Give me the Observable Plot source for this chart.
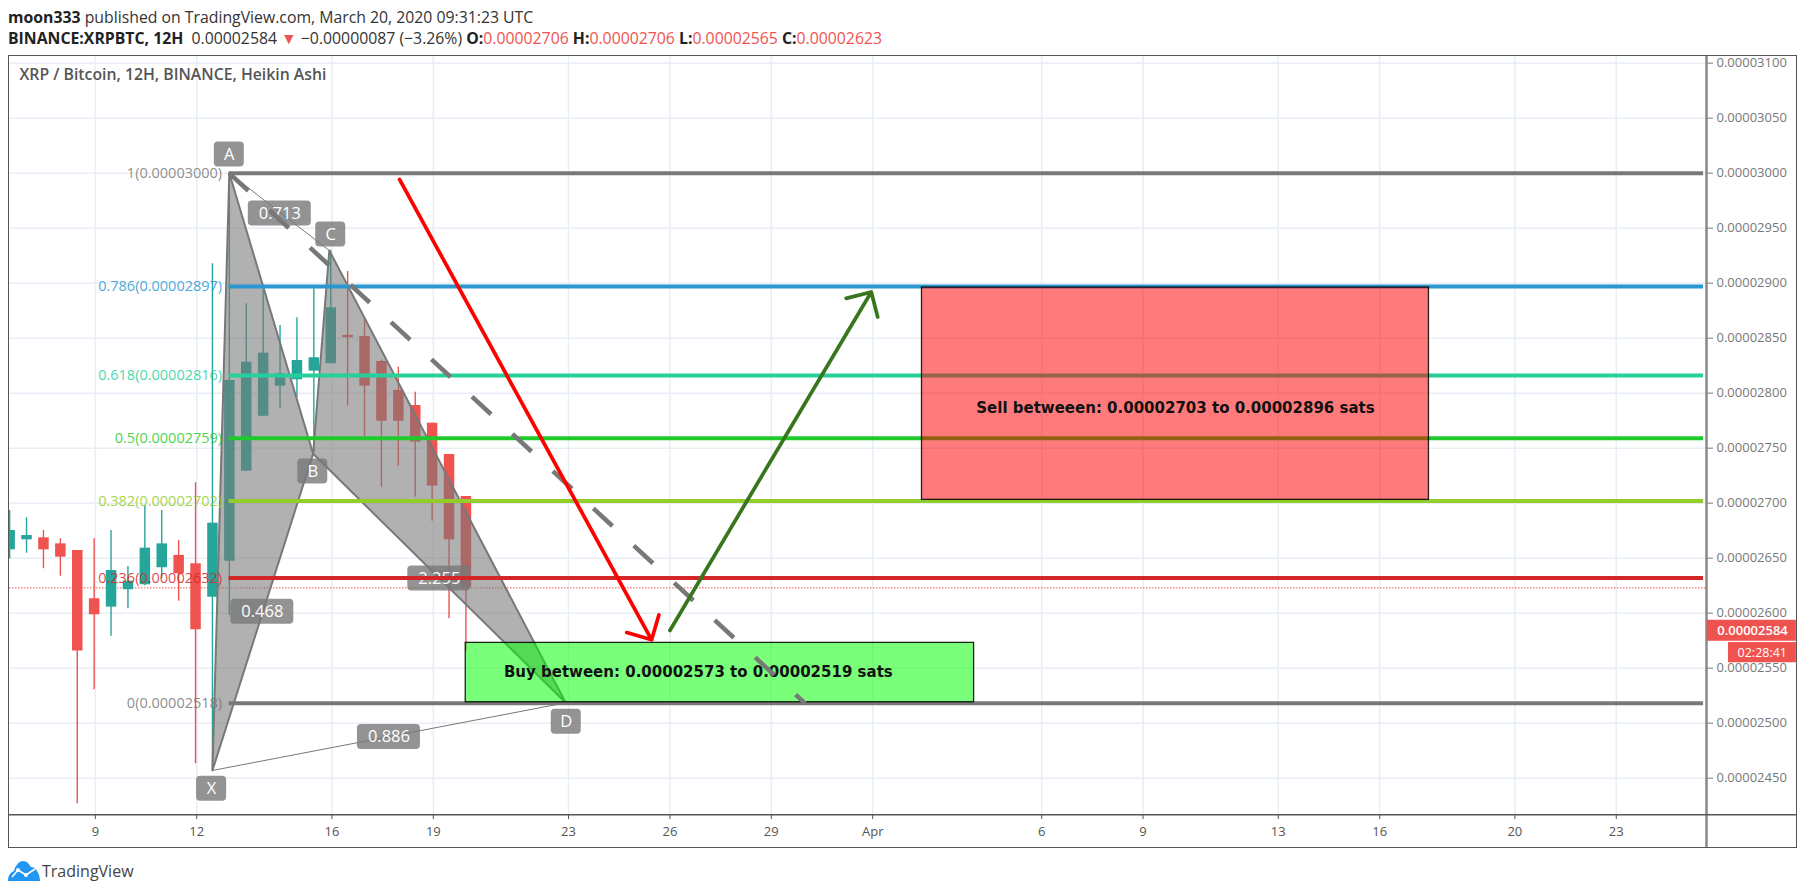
<!DOCTYPE html>
<html><head><meta charset="utf-8">
<script src="https://cdn.jsdelivr.net/npm/d3@7"></script>
<script src="https://cdn.jsdelivr.net/npm/@observablehq/plot@0.6"></script>
<style>
html,body{margin:0;padding:0;background:#fff;overflow:hidden;width:1805px;height:894px}
#page{position:relative;width:1805px;height:894px;font-family:"Open Sans",sans-serif}
#head{position:relative;height:47px;color:#333}
#head div{position:absolute;left:8px;white-space:nowrap;font-size:15.8px;line-height:20px;z-index:3}
#head b{color:#222;font-weight:700}
.r{color:#ef5350}
#frame{position:absolute;left:8px;top:55px;width:1787px;height:791px;border:1.5px solid #555;pointer-events:none;z-index:2}
#foot{position:absolute;left:8px;top:860px;height:21px;display:flex;align-items:center;gap:2px;font-size:16px;color:#444}
#chart{position:absolute;left:0;top:47px}
</style></head><body>
<div id="page">
<div id="head">
<div style="top:7px"><b>moon333</b> published on TradingView.com, March 20, 2020 09:31:23 UTC</div>
<div style="top:28px"><b>BINANCE:XRPBTC, 12H</b>&nbsp; 0.00002584 <span class="r">▼</span> −0.00000087 (−3.26%) <b>O:</b><span class="r">0.00002706</span> <b>H:</b><span class="r">0.00002706</span> <b>L:</b><span class="r">0.00002565</span> <b>C:</b><span class="r">0.00002623</span></div>
</div>
<div id="chart"></div>
<div id="frame"></div>
<div id="foot"><svg width="32" height="20" viewBox="0 0 32 20"><path d="M0 20C0 14 3 11 6 10C7 5 11 0 15 0C19 0 21 3 23 6C28 6 32 13 32 20Z" fill="#2196f3"/><polyline points="4,16 10,9 18,14 27,8" fill="none" stroke="#fff" stroke-width="1.6"/><circle cx="10" cy="9" r="2" fill="#fff"/><circle cx="18" cy="14" r="2" fill="#fff"/></svg><span>TradingView</span></div>
</div>
<script>
// Candles (Heikin Ashi, 12H). Prices are in units of 1e-8 BTC.
const candleTimes = ["2020-03-06T12:00","2020-03-07T00:00","2020-03-07T12:00","2020-03-08T00:00","2020-03-08T12:00","2020-03-09T00:00","2020-03-09T12:00","2020-03-10T00:00","2020-03-10T12:00","2020-03-11T00:00","2020-03-11T12:00","2020-03-12T00:00","2020-03-12T12:00","2020-03-13T00:00","2020-03-13T12:00","2020-03-14T00:00","2020-03-14T12:00","2020-03-15T00:00","2020-03-15T12:00","2020-03-16T00:00","2020-03-16T12:00","2020-03-17T00:00","2020-03-17T12:00","2020-03-18T00:00","2020-03-18T12:00","2020-03-19T00:00","2020-03-19T12:00","2020-03-20T00:00"];
const candleOpen  = [2657.6,2666.7,2668.5,2663,2657,2613.1,2605.5,2621.3,2625.8,2641.3,2652.5,2644.9,2614.5,2647.3,2729.1,2779,2806.4,2812.2,2820,2826.7,2852.5,2851.5,2828.8,2802.5,2788.8,2772.7,2744.3,2706];
const candleClose = [2675.2,2670.6,2657.6,2650.9,2565.5,2598.5,2638.8,2629.1,2659.1,2663,2635.8,2584.9,2681.8,2811.5,2828.2,2836.4,2817.6,2829.7,2832.2,2877.6,2850.4,2806.4,2774.5,2774.5,2755.5,2715.5,2666.7,2623];
const candleHigh  = [2693.4,2686.7,2675.2,2667.6,2657,2667.6,2675.2,2642.5,2697.9,2693.4,2666,2718.5,2917.6,3000,2881.3,2893.4,2861.5,2868.5,2894.9,2929.7,2910.6,2867.6,2830,2823.6,2800.9,2772.7,2744.3,2706];
const candleLow   = [2649.5,2654.5,2640.4,2633.6,2426.7,2530.4,2579.1,2604,2625,2631.3,2610.9,2463.1,2457,2598.2,2729.1,2779,2785.8,2796,2746.4,2826.7,2788.2,2760.7,2714.5,2733.6,2705.5,2683.6,2594.9,2565];
const candles = candleTimes.map((t,i)=>({t:new Date(t+"Z"),o:candleOpen[i],c:candleClose[i],h:candleHigh[i],l:candleLow[i]}));

// Fibonacci levels
const fibRatios = ["1","0.786","0.618","0.5","0.382","0.236","0"];
const fibLevels = [3000,2897,2816,2759,2702,2632,2518];
const fibColors = ["#787878","#2b96d0","#26d09a","#1fcb2a","#93cd2a","#d32727","#787878"];
const fibStart = "2020-03-12T23:00", fibEnd = "2020-04-25T14:00";
const fibs = fibLevels.map((v,i)=>({v,color:fibColors[i],label:`${fibRatios[i]}(${(v/1e8).toFixed(8)})`}));

// Harmonic pattern
const patternNames = ["X","A","B","C","D"];
const patternTimes = ["2020-03-12T12:00","2020-03-13T00:00","2020-03-15T11:30","2020-03-15T23:00","2020-03-22T22:50"];
const patternValues = [2457,3000,2744.9,2929.7,2518.5];
const P = Object.fromEntries(patternNames.map((n,i)=>[n,{t:new Date(patternTimes[i]+"Z"),v:patternValues[i]}]));
const triangles = ["XABX","BCDB"].flatMap(s=>[...s].map(n=>({s,...P[n]})));
const thinLines = ["XD","AC"].flatMap(s=>[...s].map(n=>({s,...P[n]})));

const tagTexts  = ["A","C","B","X","D","0.713","0.468","0.886","2.255"];
const tagTimes  = ["2020-03-13T00:00","2020-03-16T00:00","2020-03-15T11:15","2020-03-12T11:25","2020-03-22T23:15","2020-03-14T11:50","2020-03-13T23:25","2020-03-17T17:20","2020-03-19T05:05"];
const tagValues = [3017,2944.3,2728.8,2440.4,2501.3,2963.4,2601.3,2487.5,2631.5];
const tags = tagTexts.map((text,i)=>({text,t:new Date(tagTimes[i]+"Z"),v:tagValues[i]}));

// Zones
const zoneTexts = ["Buy between: 0.00002573 to 0.00002519 sats","Sell betweeen: 0.00002703 to 0.00002896 sats"];
const zoneStart = ["2020-03-19T23:00","2020-04-02T11:00"];
const zoneEnd   = ["2020-04-04T00:00","2020-04-17T11:00"];
const zoneLow   = [2519,2703];
const zoneHigh  = [2573,2896];
const zoneFills = ["#00ff00","#ff0000"];
const zoneTextTimes = ["2020-03-26T20:10","2020-04-09T23:00"];
const zoneTextValues = [2546,2786.4];
const zones = zoneTexts.map((text,i)=>({text,x1:new Date(zoneStart[i]+"Z"),x2:new Date(zoneEnd[i]+"Z"),y1:zoneLow[i],y2:zoneHigh[i],fill:zoneFills[i],tx:new Date(zoneTextTimes[i]+"Z"),ty:zoneTextValues[i]}));

// Arrows and dashed trend
const arrowFromTimes = ["2020-03-18T00:00","2020-03-26T00:00"];
const arrowToTimes   = ["2020-03-25T11:00","2020-03-31T23:00"];
const arrowFromValues = [2994.3,2584.3];
const arrowToValues   = [2575.8,2892];
const arrowColors = ["#ff0000","#38761d"];
const arrows = arrowFromTimes.map((t,i)=>({x1:new Date(t+"Z"),x2:new Date(arrowToTimes[i]+"Z"),y1:arrowFromValues[i],y2:arrowToValues[i],color:arrowColors[i]}));
const dashedTimes = ["2020-03-12T23:00","2020-03-30T00:00"];
const dashedValues = [3000,2518];
const dashed = dashedTimes.map((t,i)=>({t:new Date(t+"Z"),v:dashedValues[i]}));

// Axes
const xTickDates = ["2020-03-09","2020-03-12","2020-03-16","2020-03-19","2020-03-23","2020-03-26","2020-03-29","2020-04-01","2020-04-06","2020-04-09","2020-04-13","2020-04-16","2020-04-20","2020-04-23"].map(d=>new Date(d+"T00:00Z"));
const xTickLabels = ["9","12","16","19","23","26","29","Apr","6","9","13","16","20","23"];
const yTicks = [2450,2500,2550,2600,2650,2700,2750,2800,2850,2900,2950,3000,3050,3100];
const lastClose = 2623, lastPrice = 2584;
const countdown = "02:28:41";
const chartTitle = "XRP / Bitcoin, 12H, BINANCE, Heikin Ashi";

const day0 = Date.UTC(2020,2,9);
const at = d => new Date(day0 + d*864e5);
const pxX = 33.8, pxY = 1.1;              // pixels per day, pixels per price unit
const xDomain = [at(-2.54), at(47.67)];
const yDomain = [2416.7, 3106.7];
const yBelow = yDomain[0]-33/pxY;
const xOuter = at(50.33);
const FONT = '"Open Sans",sans-serif';
const off = (t,px)=>new Date(+t + px/pxX*864e5);
const shift = -1.2;

const chart = Plot.plot({
  width:1805,height:801,marginTop:8,marginBottom:34,marginLeft:9,marginRight:99,
  style:{background:"transparent",fontFamily:FONT},
  x:{type:"utc",domain:xDomain,range:[9,1706]},
  y:{type:"linear",domain:yDomain,range:[767.3,8.3]},
  marks:[
    Plot.ruleY(yTicks,{stroke:"#e8eef5",strokeWidth:1.5}),
    Plot.ruleX(xTickDates,{stroke:"#e8eef5",strokeWidth:1.5}),
    // current close
    Plot.ruleY([lastClose],{stroke:"#ef5350",strokeWidth:1,strokeDasharray:"1.5,1.5"}),
    // candles
    Plot.ruleX(candles,{x:"t",y1:"l",y2:"h",dx:shift,stroke:d=>d.c>=d.o?"#26a69a":"#ef5350",strokeWidth:1.4,clip:true}),
    Plot.ruleX(candles,{x:"t",dx:shift,y1:d=>Math.min(d.o,d.c),y2:d=>Math.max(d.o,d.c)+(Math.abs(d.o-d.c)<2?1:0),stroke:d=>d.c>=d.o?"#26a69a":"#ef5350",strokeWidth:10.5,clip:true}),
    // harmonic pattern
    Plot.line(triangles,{x:"t",y:"v",z:"s",dx:shift,fill:"#787878",fillOpacity:0.58,stroke:"#787878",strokeWidth:2}),
    Plot.line(thinLines,{x:"t",y:"v",z:"s",dx:shift,stroke:"#787878",strokeWidth:1}),
    Plot.rect(tags,{x1:d=>off(d.t,d.text.length>1?-31.5:-15),x2:d=>off(d.t,d.text.length>1?31.5:15),y1:d=>d.v-12.5/pxY,y2:d=>d.v+12.5/pxY,dx:shift,fill:"#787878",fillOpacity:0.8,rx:4}),
    Plot.text(tags,{x:"t",y:"v",text:"text",dx:shift,fill:"#fff",fontSize:16.5,fontFamily:FONT}),
    // fib levels
    Plot.ruleY(fibs,{y:"v",x1:new Date(fibStart+"Z"),x2:new Date(fibEnd+"Z"),stroke:"color",strokeWidth:4}),
    Plot.text(fibs,{x:new Date(fibStart+"Z"),y:"v",text:"label",fill:"color",fillOpacity:0.85,textAnchor:"end",dx:-7,fontSize:14.5,fontFamily:FONT}),
    // zones
    Plot.rect(zones,{x1:"x1",x2:"x2",y1:"y1",y2:"y2",fill:"fill",fillOpacity:0.52,stroke:"#000",strokeWidth:1.3,strokeOpacity:0.85}),
    Plot.text(zones,{x:"tx",y:"ty",text:"text",fill:"#111",fontWeight:700,fontSize:15,fontFamily:"DejaVu Sans"}),
    // trend line and arrows
    Plot.line(dashed,{x:"t",y:"v",stroke:"#787878",strokeWidth:4.5,strokeDasharray:"26,29",strokeLinecap:"butt"}),
    Plot.arrow(arrows,{x1:"x1",y1:"y1",x2:"x2",y2:"y2",stroke:"color",strokeWidth:3.7,headLength:10.5,headAngle:90,bend:0,strokeLinejoin:"miter"}),
    // axes
    Plot.axisX({ticks:xTickDates,tickFormat:d=>xTickLabels[xTickDates.findIndex(t=>+t===+d)],tickSize:5,tickPadding:7,stroke:"#555",fill:"#555",fontSize:13,label:null,fontFamily:FONT}),
    Plot.axisY({anchor:"right",ticks:yTicks,tickFormat:v=>(v/1e8).toFixed(8),tickSize:6,tickPadding:4,stroke:"#787878",fill:"#787878",fontSize:13,label:null,fontFamily:FONT}),
    Plot.ruleX([at(47.67)],{y1:yBelow,y2:yDomain[1],stroke:"#8a8a8a",strokeWidth:2.5}),
    Plot.ruleY([yDomain[0]],{x1:xDomain[0],x2:xOuter,stroke:"#555",strokeWidth:1.5}),
    // price tags
    Plot.rect([{}],{x1:at(47.69),x2:xOuter,y1:lastPrice-10.5/pxY,y2:lastPrice+10.5/pxY,fill:"#ef5350"}),
    Plot.text([(lastPrice/1e8).toFixed(8)],{x:at(47.99),y:lastPrice,text:d=>d,textAnchor:"start",fill:"#fff",fontSize:13,fontWeight:600,fontFamily:FONT}),
    Plot.rect([{}],{x1:at(48.32),x2:xOuter,y1:lastPrice-11/pxY-21/pxY,y2:lastPrice-11/pxY-0.8/pxY,fill:"#ef5350"}),
    Plot.text([countdown],{x:at(49.32),y:lastPrice-22/pxY,text:d=>d,fill:"#fff",fontSize:12.5,fontFamily:FONT}),
    // title
    Plot.text([chartTitle],{frameAnchor:"top-left",dx:10,dy:13,text:d=>d,fill:"#555",fontWeight:600,fontSize:15.8,fontFamily:FONT})
  ]
});
document.getElementById("chart").appendChild(chart);
</script>
</body></html>
